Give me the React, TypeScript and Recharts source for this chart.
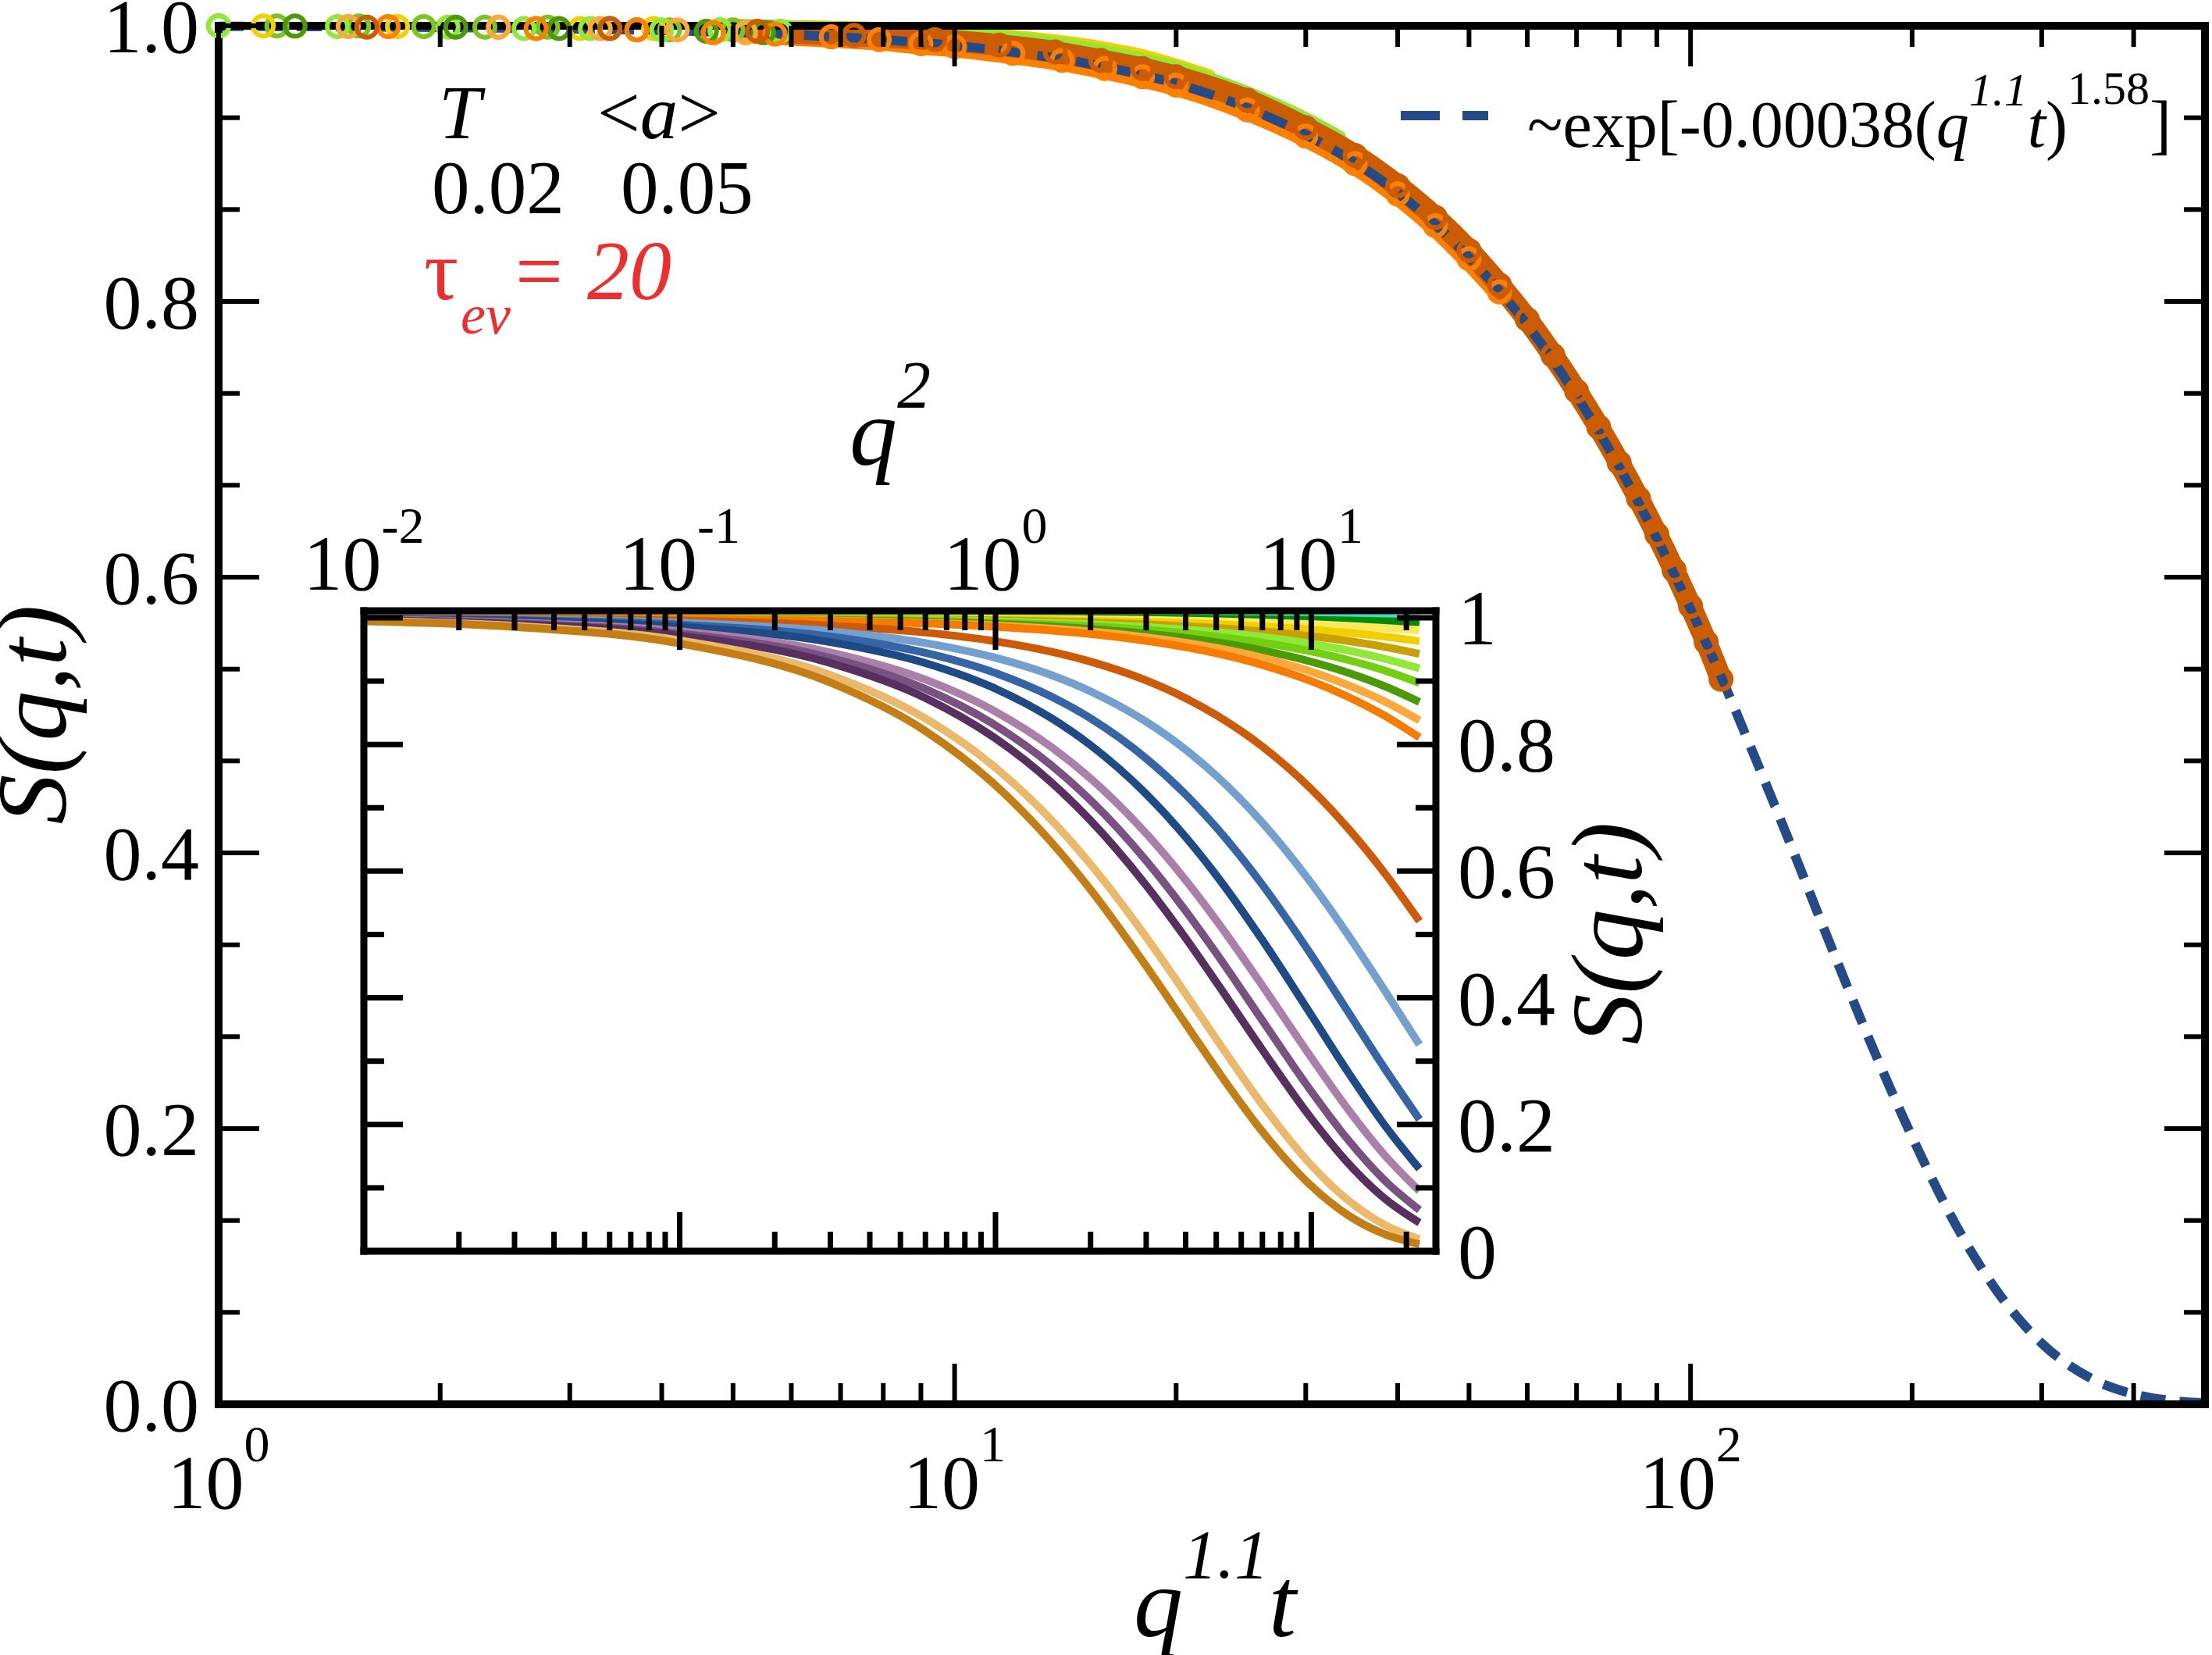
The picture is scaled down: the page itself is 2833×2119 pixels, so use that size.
import React from 'react';
import { LineChart, Line, XAxis, YAxis } from 'recharts';

const W = 2833;
const H = 2119;
const FONT = "'Liberation Serif', 'Times New Roman', Times, serif";
const TS = { fontFamily: FONT };

// ---------------- main panel data (x = q^1.1 t) ----------------
const fitX = [1, 1.5, 2, 3, 4, 5, 7, 10, 15, 20, 25, 30, 40, 50, 60, 70, 80, 90, 100, 110, 120, 130, 140, 150, 170, 200, 230, 260, 300, 350, 400, 450, 500];
const fitS = [0.9996, 0.9993, 0.9988, 0.9978, 0.9966, 0.9952, 0.9918, 0.9857, 0.973, 0.958, 0.9404, 0.921, 0.879, 0.832, 0.783, 0.7315, 0.68, 0.628, 0.577, 0.528, 0.48, 0.435, 0.3925, 0.352, 0.2804, 0.194, 0.1289, 0.0832, 0.0443, 0.0188, 0.0074, 0.0027, 0.0009];

const t20X = [1.59, 3.4, 5.4, 7.3, 9.4, 11.5, 13.7, 15.8, 18, 20, 25, 30, 35, 40, 45, 50, 55, 60, 65, 70, 75, 80, 85, 90, 95, 100, 105, 110];
const t20S = [0.999, 0.998, 0.996, 0.993, 0.99, 0.986, 0.981, 0.975, 0.969, 0.963, 0.946, 0.926, 0.906, 0.884, 0.861, 0.837, 0.812, 0.787, 0.761, 0.735, 0.709, 0.683, 0.657, 0.631, 0.605, 0.579, 0.553, 0.526];

const t10X = [1.7, 2.7, 3.7, 4.7, 5.7, 6.8, 7.9, 9, 10, 12, 14, 16, 18, 20, 25, 30, 35, 40, 45, 50, 55];
const t10S = [0.9995, 0.998, 0.997, 0.995, 0.994, 0.992, 0.99, 0.987, 0.985, 0.98, 0.975, 0.969, 0.963, 0.957, 0.939, 0.92, 0.9, 0.878, 0.855, 0.831, 0.807];

const t9X = [1.5, 2.4, 3.3, 4.2, 5.2, 6.1, 7.1, 8.5, 10, 12, 15, 18, 22, 26, 30, 35, 40, 45, 49];
const t9S = [0.9995, 0.999, 0.998, 0.997, 0.995, 0.994, 0.992, 0.989, 0.987, 0.982, 0.974, 0.965, 0.952, 0.938, 0.922, 0.902, 0.88, 0.857, 0.838];

const t8X = [1.27, 2.1, 2.9, 3.7, 4.6, 5.5, 6.5, 8, 10, 13, 16, 20, 25, 30, 35, 40, 44];
const t8S = [0.9998, 0.999, 0.998, 0.997, 0.996, 0.995, 0.994, 0.991, 0.988, 0.98, 0.972, 0.96, 0.942, 0.923, 0.903, 0.881, 0.863];

const t6X = [1.0, 1.45, 2.05, 2.6, 3.2, 4.0, 4.8, 5.8, 7, 9, 12, 16, 20, 25, 30, 33];
const t6S = [0.9999, 0.9995, 0.999, 0.998, 0.998, 0.997, 0.997, 0.996, 0.995, 0.993, 0.988, 0.978, 0.966, 0.948, 0.929, 0.917];

const t4X = [1.15, 1.75, 2.4, 3.1, 3.9, 4.8, 6, 7.5, 9.5, 12, 15, 18, 22];
const t4S = [0.9999, 0.9995, 0.999, 0.998, 0.998, 0.997, 0.996, 0.995, 0.993, 0.989, 0.983, 0.975, 0.961];

const t2X = [1.0, 1.2, 1.55, 1.9, 2.3, 2.8, 3.4, 4.1, 5, 6.2, 7.6, 9, 11];
const t2S = [1.0, 0.9999, 0.9998, 0.9995, 0.999, 0.999, 0.998, 0.997, 0.997, 0.996, 0.995, 0.993, 0.99];

const mainXTicks = [1, 2, 3, 4, 5, 6, 7, 8, 9, 10, 20, 30, 40, 50, 60, 70, 80, 90, 100, 200, 300, 400];
const mainYTicks = [0, 0.0667, 0.1333, 0.2, 0.2667, 0.3333, 0.4, 0.4667, 0.5333, 0.6, 0.6667, 0.7333, 0.8, 0.8667, 0.9333, 1];

// ---------------- inset data (x = q^2) ----------------
const qsq = [0.01, 0.03, 0.1, 0.3, 0.6, 1, 1.5, 2, 3, 4, 5, 7, 10, 13, 17, 22];
const sTeal = [1, 1, 1, 1, 1, 1, 1, 1, 0.9999, 0.9998, 0.9998, 0.9997, 0.9995, 0.9994, 0.9992, 0.999];
const sDarkGreen = [1.0, 1.0, 0.9999, 0.9998, 0.9997, 0.9995, 0.9993, 0.9991, 0.9988, 0.9984, 0.9981, 0.9974, 0.9965, 0.9956, 0.9944, 0.993];
const sLightYellow = [1.0, 0.9999, 0.9998, 0.9995, 0.9991, 0.9986, 0.998, 0.9975, 0.9964, 0.9954, 0.9944, 0.9925, 0.9898, 0.9873, 0.9839, 0.98];
const sYellow = [1.0, 0.9999, 0.9997, 0.9991, 0.9984, 0.9974, 0.9963, 0.9953, 0.9933, 0.9915, 0.9896, 0.9862, 0.9812, 0.9764, 0.9703, 0.963];
const sGold = [0.9999, 0.9998, 0.9995, 0.9986, 0.9974, 0.996, 0.9943, 0.9927, 0.9897, 0.9867, 0.9839, 0.9785, 0.9709, 0.9635, 0.9542, 0.943];
const sLightGreen = [0.9999, 0.9997, 0.9992, 0.998, 0.9964, 0.9943, 0.992, 0.9897, 0.9853, 0.9812, 0.9773, 0.9697, 0.9589, 0.9486, 0.9355, 0.92];
const sYellowGreen = [0.9999, 0.9996, 0.999, 0.9974, 0.9953, 0.9926, 0.9895, 0.9866, 0.981, 0.9756, 0.9705, 0.9607, 0.9467, 0.9336, 0.9169, 0.897];
const sOlive = [0.9998, 0.9995, 0.9987, 0.9966, 0.9938, 0.9903, 0.9863, 0.9824, 0.9751, 0.9681, 0.9614, 0.9486, 0.9306, 0.9137, 0.8923, 0.867];
const sLightOrange = [0.9998, 0.9994, 0.9984, 0.9958, 0.9923, 0.988, 0.983, 0.9783, 0.9692, 0.9606, 0.9524, 0.9368, 0.9148, 0.8941, 0.8683, 0.838];
const sOrange = [0.9997, 0.9993, 0.9981, 0.995, 0.9909, 0.9858, 0.9799, 0.9743, 0.9636, 0.9535, 0.9439, 0.9255, 0.8999, 0.8758, 0.8459, 0.811];
const sDarkOrange = [0.9995, 0.9985, 0.9955, 0.9875, 0.9766, 0.9628, 0.9464, 0.9307, 0.901, 0.8729, 0.8463, 0.7966, 0.7293, 0.669, 0.598, 0.521];
const sLightBlue = [0.9991, 0.9974, 0.9922, 0.9787, 0.96, 0.9368, 0.9096, 0.8838, 0.8359, 0.7917, 0.7507, 0.6765, 0.5811, 0.5011, 0.4131, 0.326];
const sBlue = [0.9987, 0.9964, 0.9891, 0.9703, 0.9445, 0.9127, 0.8757, 0.8412, 0.7779, 0.721, 0.6691, 0.5784, 0.4676, 0.3799, 0.2899, 0.208];
const sDarkBlue = [0.9983, 0.9953, 0.9858, 0.9616, 0.9285, 0.8881, 0.8417, 0.7988, 0.7217, 0.6538, 0.5935, 0.4911, 0.3726, 0.2845, 0.2002, 0.13];
const sLightMauve = [0.9971, 0.9924, 0.9786, 0.9453, 0.9023, 0.8519, 0.7961, 0.7462, 0.6594, 0.5858, 0.5225, 0.4191, 0.3056, 0.2256, 0.1526, 0.0951];
const sMauve = [0.9966, 0.9912, 0.9751, 0.9367, 0.8875, 0.8301, 0.7673, 0.7118, 0.6165, 0.5373, 0.4705, 0.3642, 0.2523, 0.1773, 0.1126, 0.065];
const sDarkPurple = [0.9961, 0.99, 0.9718, 0.9285, 0.8733, 0.8095, 0.7404, 0.6799, 0.5775, 0.4942, 0.425, 0.3178, 0.2096, 0.1404, 0.0839, 0.045];
const sPeach = [0.9951, 0.9873, 0.9642, 0.9096, 0.841, 0.7634, 0.6811, 0.6108, 0.4959, 0.4063, 0.3351, 0.2311, 0.1358, 0.0814, 0.0421, 0.019];
const sGoldenrod = [0.9944, 0.9855, 0.9593, 0.8977, 0.8211, 0.7355, 0.646, 0.5707, 0.4502, 0.3589, 0.2882, 0.1889, 0.1031, 0.0576, 0.0272, 0.011];

const insetXTicks = [0.01, 0.02, 0.03, 0.04, 0.05, 0.06, 0.07, 0.08, 0.09, 0.1, 0.2, 0.3, 0.4, 0.5, 0.6, 0.7, 0.8, 0.9, 1, 2, 3, 4, 5, 6, 7, 8, 9, 10, 20];
const insetYTicks = [0, 0.1, 0.2, 0.3, 0.4, 0.5, 0.6, 0.7, 0.8, 0.9, 1];

const insetSeries: [string, number[]][] = [
  ['#40d8d0', sTeal],
  ['#008a00', sDarkGreen],
  ['#ffe85a', sLightYellow],
  ['#f0d000', sYellow],
  ['#c8a000', sGold],
  ['#90e838', sLightGreen],
  ['#72d010', sYellowGreen],
  ['#4c9a08', sOlive],
  ['#fca83a', sLightOrange],
  ['#f57c00', sOrange],
  ['#cc5a08', sDarkOrange],
  ['#74a0d0', sLightBlue],
  ['#3565a5', sBlue],
  ['#1e4a85', sDarkBlue],
  ['#aa80aa', sLightMauve],
  ['#7a5282', sMauve],
  ['#58305f', sDarkPurple],
  ['#ebb96b', sPeach],
  ['#c47e16', sGoldenrod],
];

const insetRows = qsq.map((q, i) => {
  const row: Record<string, number> = { q };
  insetSeries.forEach(([, arr], k) => {
    row['s' + k] = arr[i];
  });
  return row;
});

const mainSeries: [string, number[], number[]][] = [
  ['#7cc520', t2X, t2S],
  ['#f0d000', t4X, t4S],
  ['#90e838', t6X, t6S],
  ['#4c9a08', t8X, t8S],
  ['#fca83a', t9X, t9S],
  ['#ff8000', t10X, t10S],
  ['#cc5c00', t20X, t20S],
];

const toRows = (xs: number[], ys: number[]) => xs.map((x, i) => ({ x, y: ys[i] }));

const isDecade = (v: number) => Math.abs(Math.log10(v) - Math.round(Math.log10(v))) < 1e-6;
const isMajorY = (v: number) => Math.abs(v * 5 - Math.round(v * 5)) < 0.01;

const ring = (color: string) => (p: any) => {
  const { cx, cy, index } = p;
  if (cx == null || cy == null) return <g key={'n' + index} />;
  return <circle key={'r' + index} cx={cx} cy={cy} r={13} fill="none" stroke={color} strokeWidth={6} />;
};

// ---------------- tick renderers ----------------
const MainBottomTick = (p: any) => {
  const { x, y, payload } = p;
  const v = payload.value;
  const major = isDecade(v);
  return (
    <g>
      <line x1={x} x2={x} y1={y} y2={y - (major ? 52 : 27)} stroke="#000" strokeWidth={6} />
      {major && (
        <text x={x} y={y + 133} textAnchor="middle" style={TS} fontSize={98} fill="#000">
          10<tspan dy={-60} fontSize={66}>{Math.round(Math.log10(v))}</tspan>
        </text>
      )}
    </g>
  );
};
const MainTopTick = (p: any) => {
  const { x, y, payload } = p;
  const major = isDecade(payload.value);
  return <line x1={x} x2={x} y1={y} y2={y + (major ? 52 : 27)} stroke="#000" strokeWidth={6} />;
};
const MainLeftTick = (p: any) => {
  const { x, y, payload } = p;
  const v = payload.value;
  const major = isMajorY(v);
  return (
    <g>
      <line x1={x} x2={x + (major ? 52 : 27)} y1={y} y2={y} stroke="#000" strokeWidth={6} />
      {major && (
        <text x={x - 25} y={y + 34} textAnchor="end" style={TS} fontSize={98} fill="#000">
          {v.toFixed(1)}
        </text>
      )}
    </g>
  );
};
const MainRightTick = (p: any) => {
  const { x, y, payload } = p;
  const major = isMajorY(payload.value);
  return <line x1={x} x2={x - (major ? 52 : 27)} y1={y} y2={y} stroke="#000" strokeWidth={6} />;
};

const InsetBottomTick = (p: any) => {
  const { x, y, payload } = p;
  const major = isDecade(payload.value);
  return <line x1={x} x2={x} y1={y} y2={y - (major ? 50 : 25)} stroke="#000" strokeWidth={7} />;
};
const InsetTopTick = (p: any) => {
  const { x, y, payload } = p;
  const v = payload.value;
  const major = isDecade(v);
  return (
    <g>
      <line x1={x} x2={x} y1={y} y2={y + (major ? 50 : 25)} stroke="#000" strokeWidth={7} />
      {major && (
        <text x={x} y={y - 27} textAnchor="middle" style={TS} fontSize={100} fill="#000">
          10<tspan dy={-60} fontSize={66}>{Math.round(Math.log10(v))}</tspan>
        </text>
      )}
    </g>
  );
};
const InsetLeftTick = (p: any) => {
  const { x, y, payload } = p;
  const major = isMajorY(payload.value);
  return <line x1={x} x2={x + (major ? 50 : 26)} y1={y} y2={y} stroke="#000" strokeWidth={7} />;
};
const InsetRightTick = (p: any) => {
  const { x, y, payload } = p;
  const v = payload.value;
  const major = isMajorY(v);
  const label = v === 0 ? '0' : v === 1 ? '1' : v.toFixed(1);
  return (
    <g>
      <line x1={x} x2={x - (major ? 50 : 26)} y1={y} y2={y} stroke="#000" strokeWidth={7} />
      {major && (
        <text x={x + 28} y={y + 34} textAnchor="start" style={TS} fontSize={100} fill="#000">
          {label}
        </text>
      )}
    </g>
  );
};

const axisLineMain = { stroke: '#000', strokeWidth: 10, strokeLinecap: 'square' as const };
const axisLineInset = { stroke: '#000', strokeWidth: 9, strokeLinecap: 'square' as const };

export default function App() {
  return (
    <div style={{ position: 'absolute', left: 0, top: 0, width: W, height: H, background: '#fff' }}>
      <div style={{ position: 'absolute', left: 0, top: 0 }}>
        <LineChart width={W} height={H} margin={{ top: 32, right: 8, bottom: 320, left: 279 }}>
          <XAxis
            xAxisId={0}
            dataKey="x"
            type="number"
            scale="log"
            domain={[1, 500]}
            ticks={mainXTicks}
            interval={0}
            height={1}
            tickSize={0}
            tickMargin={0}
            tickLine={false}
            axisLine={axisLineMain}
            tick={(p: any) => <MainBottomTick {...p} />}
          />
          <XAxis
            xAxisId="top"
            dataKey="x"
            orientation="top"
            type="number"
            scale="log"
            domain={[1, 500]}
            allowDataOverflow
            ticks={mainXTicks}
            interval={0}
            height={1}
            tickSize={0}
            tickMargin={0}
            tickLine={false}
            axisLine={axisLineMain}
            tick={(p: any) => <MainTopTick {...p} />}
          />
          <YAxis
            yAxisId={0}
            type="number"
            domain={[0, 1]}
            ticks={mainYTicks}
            interval={0}
            width={1}
            tickSize={0}
            tickMargin={0}
            tickLine={false}
            axisLine={axisLineMain}
            tick={(p: any) => <MainLeftTick {...p} />}
          />
          <YAxis
            yAxisId="right"
            orientation="right"
            type="number"
            domain={[0, 1]}
            allowDataOverflow
            ticks={mainYTicks}
            interval={0}
            width={1}
            tickSize={0}
            tickMargin={0}
            tickLine={false}
            axisLine={axisLineMain}
            tick={(p: any) => <MainRightTick {...p} />}
          />
          {mainSeries.map(([c, xs, ys], k) => (
            <Line
              key={'band' + k}
              data={toRows(xs, ys).filter((r) => r.x >= 5)}
              dataKey="y"
              type="monotone"
              stroke={c}
              strokeWidth={28}
              strokeLinecap="round"
              dot={false}
              activeDot={false}
              isAnimationActive={false}
            />
          ))}
          {mainSeries.map(([c, xs, ys], k) => (
            <Line
              key={'ring' + k}
              data={toRows(xs, ys).filter((r) => r.x < 6 || k >= 5)}
              dataKey="y"
              type="monotone"
              stroke="none"
              strokeWidth={0}
              dot={ring(c)}
              activeDot={false}
              isAnimationActive={false}
            />
          ))}
          <Line
            data={toRows(fitX, fitS)}
            dataKey="y"
            type="monotone"
            stroke="#244a88"
            strokeWidth={12}
            strokeDasharray="32 18"
            dot={false}
            activeDot={false}
            isAnimationActive={false}
          />
        </LineChart>
      </div>

      <div style={{ position: 'absolute', left: 0, top: 0 }}>
        <LineChart width={W} height={H} data={insetRows} margin={{ top: 781, right: 993, bottom: 516, left: 465 }}>
          {insetSeries.map(([c], k) => (
            <Line
              key={'in' + k}
              dataKey={'s' + k}
              type="monotone"
              stroke={c}
              strokeWidth={10}
              dot={false}
              activeDot={false}
              isAnimationActive={false}
            />
          ))}
          <XAxis
            xAxisId={0}
            dataKey="q"
            type="number"
            scale="log"
            domain={[0.01, 24.8]}
            ticks={insetXTicks}
            interval={0}
            height={1}
            tickSize={0}
            tickMargin={0}
            tickLine={false}
            axisLine={axisLineInset}
            tick={(p: any) => <InsetBottomTick {...p} />}
          />
          <XAxis
            xAxisId="top"
            dataKey="q"
            orientation="top"
            type="number"
            scale="log"
            domain={[0.01, 24.8]}
            allowDataOverflow
            ticks={insetXTicks}
            interval={0}
            height={1}
            tickSize={0}
            tickMargin={0}
            tickLine={false}
            axisLine={axisLineInset}
            tick={(p: any) => <InsetTopTick {...p} />}
          />
          <YAxis
            yAxisId={0}
            type="number"
            domain={[0, 1.011]}
            ticks={insetYTicks}
            interval={0}
            width={1}
            tickSize={0}
            tickMargin={0}
            tickLine={false}
            axisLine={axisLineInset}
            tick={(p: any) => <InsetLeftTick {...p} />}
          />
          <YAxis
            yAxisId="right"
            orientation="right"
            type="number"
            domain={[0, 1.011]}
            allowDataOverflow
            ticks={insetYTicks}
            interval={0}
            width={1}
            tickSize={0}
            tickMargin={0}
            tickLine={false}
            axisLine={axisLineInset}
            tick={(p: any) => <InsetRightTick {...p} />}
          />
        </LineChart>
      </div>

      <svg width={W} height={H} style={{ position: 'absolute', left: 0, top: 0, pointerEvents: 'none' }}>
        <text transform="translate(84,915) rotate(-90)" textAnchor="middle" style={TS} fontSize={128} fontStyle="italic">
          S(q,t)
        </text>
        <text x={1556} y={2095} textAnchor="middle" style={TS} fontSize={126} fontStyle="italic">
          q<tspan dy={-75} fontSize={88}>1.1</tspan>
          <tspan dy={75}>t</tspan>
        </text>
        <text x={1140} y={595} textAnchor="middle" style={TS} fontSize={122} fontStyle="italic">
          q<tspan dy={-73} fontSize={86}>2</tspan>
        </text>
        <text transform="translate(2102,1195) rotate(-90)" textAnchor="middle" style={TS} fontSize={130} fontStyle="italic">
          S(q,t)
        </text>

        <text x={562} y={177} style={TS} fontSize={97} fontStyle="italic">T</text>
        <text x={765} y={177} style={TS} fontSize={97}>
          &lt;<tspan fontStyle="italic">a</tspan>&gt;
        </text>
        <text x={553} y={273} style={TS} fontSize={97}>0.02</text>
        <text x={795} y={273} style={TS} fontSize={97}>0.05</text>
        <g fill="#ee2e2e">
          <text x={543} y={383} style={TS} fontSize={110}>τ</text>
          <text x={590} y={427} style={TS} fontSize={72} fontStyle="italic">ev</text>
          <text x={660} y={383} style={TS} fontSize={108}>=</text>
          <text x={752} y={383} style={TS} fontSize={108} fontStyle="italic">20</text>
        </g>

        <line x1={1794} x2={1906} y1={148} y2={148} stroke="#244a88" strokeWidth={12} strokeDasharray="50 29" />
        <text x={1956} y={188} style={TS} fontSize={84}>
          ~exp[-0.00038(<tspan fontStyle="italic">q</tspan>
          <tspan fontStyle="italic" fontSize={60} dy={-53}>1.1</tspan>
          <tspan fontStyle="italic" dy={53}>t</tspan>)
          <tspan fontSize={60} dy={-55}>1.58</tspan>
          <tspan dy={55}>]</tspan>
        </text>
      </svg>
    </div>
  );
}
